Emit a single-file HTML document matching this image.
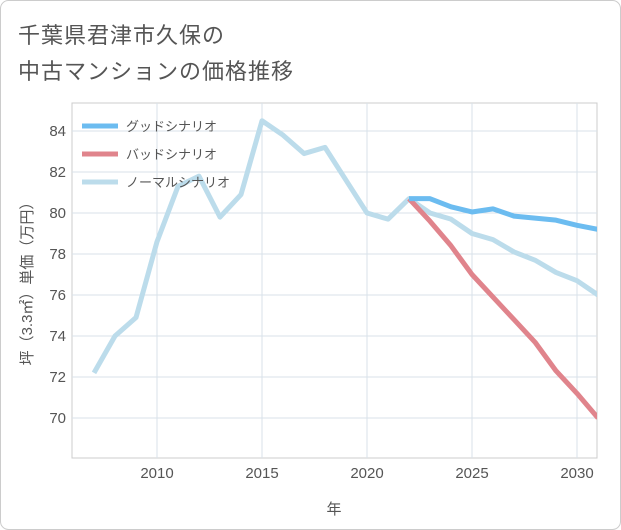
<!DOCTYPE html>
<html><head><meta charset="utf-8">
<style>
body{margin:0;background:#fff;}
#wrap{position:relative;width:621px;height:530px;font-family:"Liberation Sans","Noto Sans CJK JP",sans-serif;}
.title{position:absolute;left:18px;font-size:22px;color:#555;letter-spacing:1px;}
</style></head><body>
<div id="wrap">
<svg width="621" height="530" style="position:absolute;left:0;top:0">
<rect x="0.5" y="0.5" width="620" height="529" rx="8" fill="#fff" stroke="#ccc"/>
</svg>
<div class="title" style="top:18px">千葉県君津市久保の</div>
<div class="title" style="top:54px">中古マンションの価格推移</div>
<svg id="chart" width="621" height="530" style="position:absolute;left:0;top:0"></svg>
</div>
<script>
const years=[2007,2008,2009,2010,2011,2012,2013,2014,2015,2016,2017,2018,2019,2020,2021,2022,2023,2024,2025,2026,2027,2028,2029,2030,2031];
const normalVals=[72.2,74,74.9,78.6,81.3,81.8,79.8,80.9,84.5,83.8,82.9,83.2,81.6,80,79.7,80.7,80,79.7,79,78.7,78.1,77.7,77.1,76.7,76];
const scenYears=[2022,2023,2024,2025,2026,2027,2028,2029,2030,2031];
const goodVals=[80.7,80.7,80.3,80.05,80.2,79.85,79.75,79.65,79.4,79.2];
const badVals=[80.7,79.6,78.4,77,75.9,74.8,73.7,72.3,71.2,70];
const xTicks=[2010,2015,2020,2025,2030];
const yTicks=[70,72,74,76,78,80,82,84];
const legendLabels=["グッドシナリオ","バッドシナリオ","ノーマルシナリオ"];
const colors=["#6cbcf0","#e0848c","#bcdceb"];

const ns="http://www.w3.org/2000/svg";
const svg=document.getElementById('chart');
const L=72,R=597,T=103,B=458;
const x=v=>157+(v-2010)*21;
const y=v=>418-(v-70)*20.5;
function mk(t,a,p){const e=document.createElementNS(ns,t);for(const k in a)e.setAttribute(k,a[k]);(p||svg).appendChild(e);return e;}
mk('rect',{x:L,y:T,width:R-L,height:B-T,fill:'#fff',stroke:'#ccc'});
xTicks.forEach(t=>{
  const g=mk('line',{x1:x(t),x2:x(t),y1:T,y2:B,stroke:'#d8e2ea'});
  
  const tx=mk('text',{x:x(t),y:478,'text-anchor':'middle','font-size':15,fill:'#555'});tx.textContent=t;
  
});
yTicks.forEach(t=>{
  const g=mk('line',{x1:L,x2:R,y1:y(t),y2:y(t),stroke:'#d8e2ea'});
  
  const tx=mk('text',{x:66,y:y(t)+5,'text-anchor':'end','font-size':15,fill:'#555'});tx.textContent=t;
  
});
const xt=mk('text',{x:334,y:514,'text-anchor':'middle','font-size':15,fill:'#555'});xt.textContent='年';

const yt=mk('text',{x:0,y:0,'text-anchor':'middle','font-size':15,fill:'#555',transform:'translate(32,280) rotate(-90)'});yt.textContent='坪（3.3㎡）単価（万円）';

const clip=mk('clipPath',{id:'cp'});mk('rect',{x:L,y:T,width:R-L,height:B-T},clip);
function line(xs,vs,c,name){
  const p=mk('polyline',{points:xs.map((v,i)=>x(v)+','+y(vs[i])).join(' '),fill:'none',stroke:c,'stroke-width':5,'stroke-linejoin':'round','clip-path':'url(#cp)'});
  
}
line(years,normalVals,colors[2],'normal-scenario-line');
line(scenYears,badVals,colors[1],'bad-scenario-line');
line(scenYears,goodVals,colors[0],'good-scenario-line');
legendLabels.forEach((s,i)=>{
  const ly=126+i*28;
  const l=mk('line',{x1:82,x2:118,y1:ly,y2:ly,stroke:colors[i],'stroke-width':5});
  
  const t=mk('text',{x:126,y:ly+5,'font-size':13,fill:'#555'});t.textContent=s;
  
});
</script>
</body></html>
